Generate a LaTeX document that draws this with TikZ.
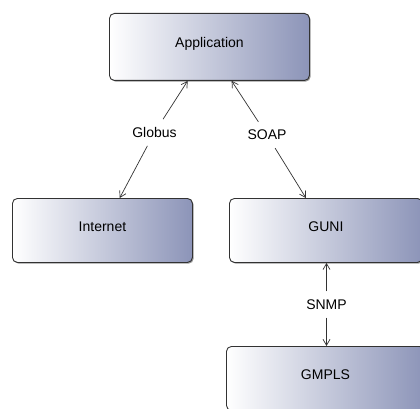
\documentclass[tikz,border=0pt]{standalone}
\usepackage{fontspec}
\setmainfont{Liberation Sans}
\usetikzlibrary{arrows.meta,shadows}
\definecolor{boxright}{RGB}{140,148,184}
\definecolor{edgecol}{RGB}{50,50,50}
\tikzset{
  box/.style={anchor=north west, draw=edgecol, line width=0.9pt, rounded corners=5pt,
    left color=white, right color=boxright, font=\fontsize{14}{16}\selectfont,
    text height=10pt, text depth=8pt, inner sep=0pt,
    drop shadow={shadow xshift=1.2pt, shadow yshift=-1.2pt, opacity=0.4, fill=black}},
  lbl/.style={font=\fontsize{14}{16}\selectfont, inner xsep=4pt, inner ysep=8pt},
  conn/.style={draw=edgecol, line width=0.7pt, -{Straight Barb[length=6pt,width=7pt]}}
}
\begin{document}
\begin{tikzpicture}[x=1pt,y=-1pt]
\useasboundingbox (0,0) rectangle (420,409);
\node[box, minimum width=200pt, minimum height=67pt] (app) at (109,13) {Application};
\node[box, minimum width=180pt, minimum height=64pt] (inet) at (12,198) {Internet};
\node[box, minimum width=193pt, minimum height=64pt] (guni) at (229,198) {GUNI};
\node[box, minimum width=198pt, minimum height=64pt] (gmpls) at (226,346) {GMPLS};
\node[lbl] (glob) at (154.5,132.5) {Globus};
\node[lbl] (soap) at (267,135) {SOAP};
\node[lbl] (snmp) at (326.5,304.5) {SNMP};
\draw[conn] (glob) -- (app);
\draw[conn] (glob) -- (inet);
\draw[conn] (soap) -- (app);
\draw[conn] (soap) -- (guni);
\draw[conn] (snmp) -- (snmp |- guni.south);
\draw[conn] (snmp) -- (snmp |- gmpls.north);
\end{tikzpicture}
\end{document}
